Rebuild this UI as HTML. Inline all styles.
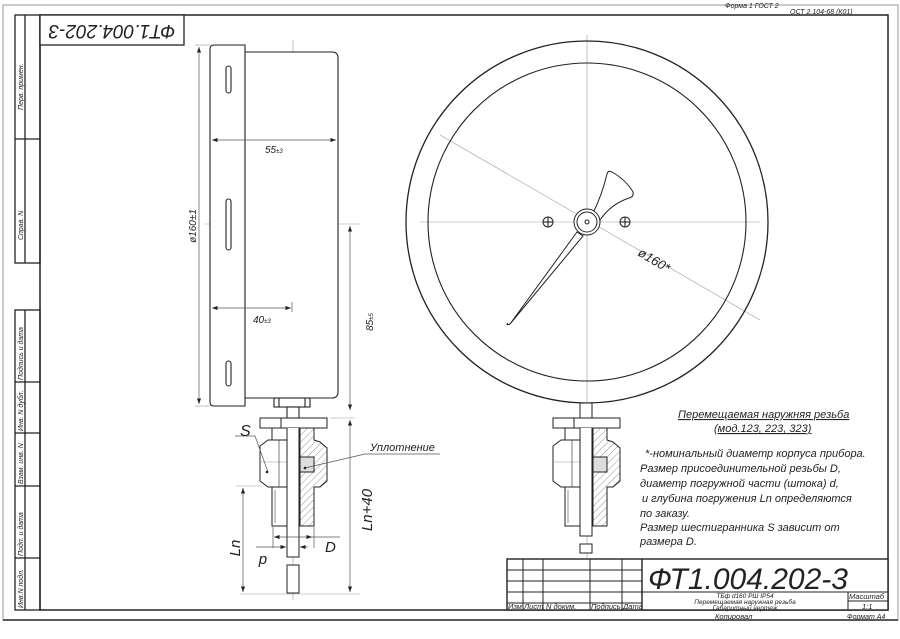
<!DOCTYPE html>
<html><head><meta charset="utf-8"><style>
html,body{margin:0;padding:0;background:#fff}
svg{display:block}
text{font-family:"Liberation Sans",sans-serif;font-style:italic;fill:#222}
</style></head><body>
<svg width="900" height="639" viewBox="0 0 900 639" xmlns="http://www.w3.org/2000/svg">
<defs>
<pattern id="h" width="5" height="5" patternUnits="userSpaceOnUse" patternTransform="rotate(45)">
<line x1="0" y1="0" x2="0" y2="5" stroke="#666" stroke-width="0.7"/></pattern>
<marker id="a" markerWidth="8" markerHeight="6" refX="8" refY="3" orient="auto"><path d="M0,0L8,3L0,6z" fill="#222"/></marker>
<marker id="s" markerWidth="8" markerHeight="6" refX="0" refY="3" orient="auto"><path d="M8,0L0,3L8,6z" fill="#222"/></marker>
<g id="fit" stroke="#222" stroke-width="1" fill="none">
<rect x="260" y="418" width="67" height="10" fill="#fff"/>
<line x1="281" y1="418" x2="281" y2="428"/>
<path d="M272,428 h18 v12 h-18 z"/>
<path d="M268,440 L260,446 V481 L268,487 H290 V440 Z"/>
<line x1="260" y1="462" x2="290" y2="462" stroke="#999" stroke-width="0.6"/>
<line x1="279" y1="440" x2="279" y2="487" stroke-width="0.6"/>
<path d="M272,487 h18 v39 h-18 z"/>
<line x1="275" y1="490" x2="275" y2="523" stroke-width="0.5"/>
<path d="M300,428 H314 V440 L320,442 L327,448 V481 L320,487 H314 V526 H300 Z" fill="url(#h)"/>
<rect x="300" y="457" width="14" height="15" fill="#ddd"/>
<line x1="290" y1="428" x2="300" y2="428"/>
</g>
</defs>
<!-- outer frame -->
<rect x="3" y="5" width="895" height="615" fill="none" stroke="#999" stroke-width="1"/>
<line x1="3" y1="620" x2="898" y2="620" stroke="#222" stroke-width="1.5"/>
<!-- inner frame -->
<rect x="40" y="15" width="848" height="595" fill="none" stroke="#222" stroke-width="1.5"/>
<text x="725" y="8" font-size="7">Форма 1    ГОСТ 2</text>
<text x="790" y="14" font-size="7">ОСТ 2.104-68     (К01)</text>
<!-- left strip -->
<g stroke="#222" stroke-width="1.3" fill="none">
<rect x="15" y="15" width="25" height="248"/>
<line x1="25" y1="15" x2="25" y2="263"/><line x1="15" y1="139" x2="40" y2="139"/>
<rect x="15" y="310" width="25" height="300"/>
<line x1="25" y1="310" x2="25" y2="610"/>
<line x1="15" y1="382" x2="40" y2="382"/><line x1="15" y1="433" x2="40" y2="433"/>
<line x1="15" y1="486" x2="40" y2="486"/><line x1="15" y1="558" x2="40" y2="558"/>
</g>
<g font-size="7">
<text transform="translate(23,110) rotate(-90)">Перв. примен.</text>
<text transform="translate(23,240) rotate(-90)">Справ. N</text>
<text transform="translate(23,380) rotate(-90)">Подпись и дата</text>
<text transform="translate(23,431) rotate(-90)">Инв. N дубл.</text>
<text transform="translate(23,484) rotate(-90)">Взам. инв. N</text>
<text transform="translate(23,556) rotate(-90)">Подп. и дата</text>
<text transform="translate(23,608) rotate(-90)">Инв.N подл.</text>
</g>
<!-- stamp top-left -->
<rect x="40" y="15" width="144" height="30" fill="#fff" stroke="#222" stroke-width="1.3"/>
<text transform="translate(112,30) rotate(180)" font-size="19" text-anchor="middle" dominant-baseline="middle">ФТ1.004.202-3</text>
<!-- side view -->
<g stroke="#999" stroke-width="0.6">
<line x1="205" y1="224" x2="360" y2="224"/>
<line x1="293" y1="40" x2="293" y2="600"/>
<line x1="195" y1="45" x2="210" y2="45"/><line x1="195" y1="406" x2="210" y2="406"/>
<line x1="330" y1="418" x2="355" y2="418"/><line x1="240" y1="594" x2="360" y2="594"/>
<line x1="236" y1="486" x2="262" y2="486"/>
</g>
<g stroke="#222" stroke-width="1.1" fill="#fff">
<path d="M245,52 H332 Q338,52 338,58 V392 Q338,398 332,398 H245 Z"/>
<path d="M214,45 H245 V406 H214 Q210,406 210,402 V49 Q210,45 214,45 Z"/>
<rect x="226" y="66" width="5" height="27" rx="2.5"/>
<rect x="226" y="199" width="5" height="51" rx="2.5"/>
<rect x="226" y="361" width="5" height="25" rx="2.5"/>
<rect x="274" y="398" width="36" height="9"/>
<line x1="279" y1="398" x2="279" y2="407"/><line x1="305" y1="398" x2="305" y2="407"/>
<rect x="287" y="407" width="12" height="11"/>
</g>
<use href="#fit"/>
<g stroke="#222" stroke-width="1" fill="#fff">
<path d="M287,428 V557 H299 V428"/>
<path d="M287,565 h12 v28 h-12 z"/>
</g>
<!-- side dims -->
<g stroke="#555" stroke-width="0.7" fill="none">
<line x1="199" y1="47" x2="199" y2="404" marker-start="url(#s)" marker-end="url(#a)"/>
<line x1="212" y1="140" x2="336" y2="140" marker-start="url(#s)" marker-end="url(#a)"/>
<line x1="212" y1="308" x2="291" y2="308" marker-start="url(#s)" marker-end="url(#a)"/>
<line x1="292" y1="302" x2="292" y2="312"/>
<line x1="350" y1="226" x2="350" y2="410" marker-start="url(#s)" marker-end="url(#a)"/>
<line x1="350" y1="420" x2="350" y2="592" marker-start="url(#s)" marker-end="url(#a)"/>
<line x1="243" y1="488" x2="243" y2="592" marker-start="url(#s)" marker-end="url(#a)"/>
<line x1="273" y1="527" x2="273" y2="548"/><line x1="314" y1="527" x2="314" y2="548"/>
<line x1="274" y1="537" x2="312" y2="537" marker-start="url(#s)" marker-end="url(#a)"/>
<line x1="312" y1="537" x2="340" y2="537"/>
<line x1="256" y1="547" x2="286" y2="547" marker-end="url(#a)"/>
<line x1="300" y1="547" x2="308" y2="547" marker-start="url(#s)"/>
<line x1="235" y1="436" x2="255" y2="436"/><line x1="255" y1="436" x2="268" y2="472"/>
<line x1="305" y1="468" x2="365" y2="454"/><line x1="365" y1="454" x2="440" y2="454"/>
</g>
<circle cx="267" cy="472" r="1.3" fill="#222"/><circle cx="305" cy="468" r="1.3" fill="#222"/>
<text transform="translate(196,226) rotate(-90)" font-size="10" font-style="normal" text-anchor="middle">ø160±1</text>
<text x="265" y="153" font-size="10" font-style="normal">55<tspan font-size="6">±3</tspan></text>
<text x="253" y="323" font-size="10" font-style="normal">40<tspan font-size="6">±3</tspan></text>
<text transform="translate(373,322) rotate(-90)" font-size="10" font-style="normal" text-anchor="middle">85<tspan font-size="6">±5</tspan></text>
<text x="240" y="436" font-size="16">S</text>
<text x="370" y="451" font-size="11">Уплотнение</text>
<text transform="translate(372,510) rotate(-90)" font-size="15" text-anchor="middle">Ln+40</text>
<text transform="translate(240,548) rotate(-90)" font-size="15" text-anchor="middle">Ln</text>
<text transform="translate(263,556) rotate(180)" font-size="15" text-anchor="middle">d</text>
<text x="325" y="552" font-size="15">D</text>
<!-- front view -->
<g stroke="#999" stroke-width="0.6">
<line x1="420" y1="222" x2="760" y2="222"/>
<line x1="587" y1="35" x2="587" y2="560"/>
<line x1="440" y1="135" x2="760" y2="320"/>
</g>
<circle cx="587" cy="222" r="181" fill="none" stroke="#222" stroke-width="1.3"/>
<circle cx="587" cy="222" r="159" fill="none" stroke="#222" stroke-width="1.1"/>
<g stroke="#222" stroke-width="1" fill="#fff">
<path d="M510,324 L577,232 L583,236 Z M508,323 Q505,326 510,324" />
<path d="M593,213 Q602,195 607,174 Q608,170 612,172 Q626,180 633,192 Q634,197 629,198 Q611,204 600,220 Z"/>
<circle cx="587" cy="222" r="13"/>
<circle cx="587" cy="222" r="10"/>
<circle cx="587" cy="222" r="2"/>
<circle cx="548" cy="222" r="5"/><circle cx="625" cy="222" r="5"/>
</g>
<g stroke="#222" stroke-width="1.1"><line x1="543" y1="222" x2="553" y2="222"/><line x1="548" y1="217" x2="548" y2="227"/><line x1="620" y1="222" x2="630" y2="222"/><line x1="625" y1="217" x2="625" y2="227"/></g>
<text transform="translate(637,255) rotate(31)" font-size="13">ø160*</text>
<g transform="translate(293,0)">
<rect x="287" y="403" width="12" height="15" fill="#fff" stroke="#222"/>
<use href="#fit"/>
<g stroke="#222" stroke-width="1" fill="#fff">
<path d="M287,428 V536 H299 V428"/>
<path d="M287,544 h12 v9 h-12 z"/>
</g>
</g>
<!-- notes -->
<g font-size="11">
<text x="678" y="418" text-decoration="underline">Перемещаемая наружняя резьба</text>
<text x="714" y="432" text-decoration="underline">(мод.123, 223, 323)</text>
<text x="645" y="457">*-номинальный диаметр корпуса прибора.</text>
<text x="640" y="472">Размер присоединительной резьбы D,</text>
<text x="640" y="487">диаметр погружной части (штока) d,</text>
<text x="642" y="502">и глубина погружения Ln определяются</text>
<text x="640" y="517">по заказу.</text>
<text x="640" y="531">Размер шестигранника S зависит от</text>
<text x="640" y="545">размера D.</text>
</g>
<!-- title block -->
<g stroke="#222" stroke-width="1" fill="none">
<rect x="507" y="559" width="381" height="51" fill="#fff" stroke-width="1.4"/>
<line x1="507" y1="570" x2="642" y2="570"/><line x1="507" y1="581" x2="642" y2="581"/>
<line x1="507" y1="592" x2="888" y2="592"/><line x1="507" y1="603" x2="642" y2="603"/>
<line x1="523" y1="559" x2="523" y2="610"/><line x1="543" y1="559" x2="543" y2="610"/>
<line x1="590" y1="559" x2="590" y2="610"/><line x1="622" y1="559" x2="622" y2="610"/>
<line x1="642" y1="559" x2="642" y2="610" stroke-width="1.4"/>
<line x1="848" y1="592" x2="848" y2="610"/><line x1="848" y1="601" x2="888" y2="601"/>
</g>
<text x="648" y="589" font-size="30">ФТ1.004.202-3</text>
<g font-size="6.5" text-anchor="middle" fill="#444">
<text x="745" y="598">ТБф d160 РШ IP54</text>
<text x="745" y="604">Перемещаемая наружная резьба</text>
<text x="745" y="610">Габаритный чертеж</text>
</g>
<g font-size="7.5">
<text x="508" y="609">Изм</text><text x="524" y="609">Лист</text><text x="546" y="609">N докум.</text>
<text x="591" y="609">Подпись</text><text x="623" y="609">Дата</text>
<text x="849" y="599">Масштаб</text><text x="862" y="609">1:1</text>
<text x="715" y="619">Копировал</text><text x="847" y="619" font-size="7">Формат А4</text>
</g>
</svg>
</body></html>
